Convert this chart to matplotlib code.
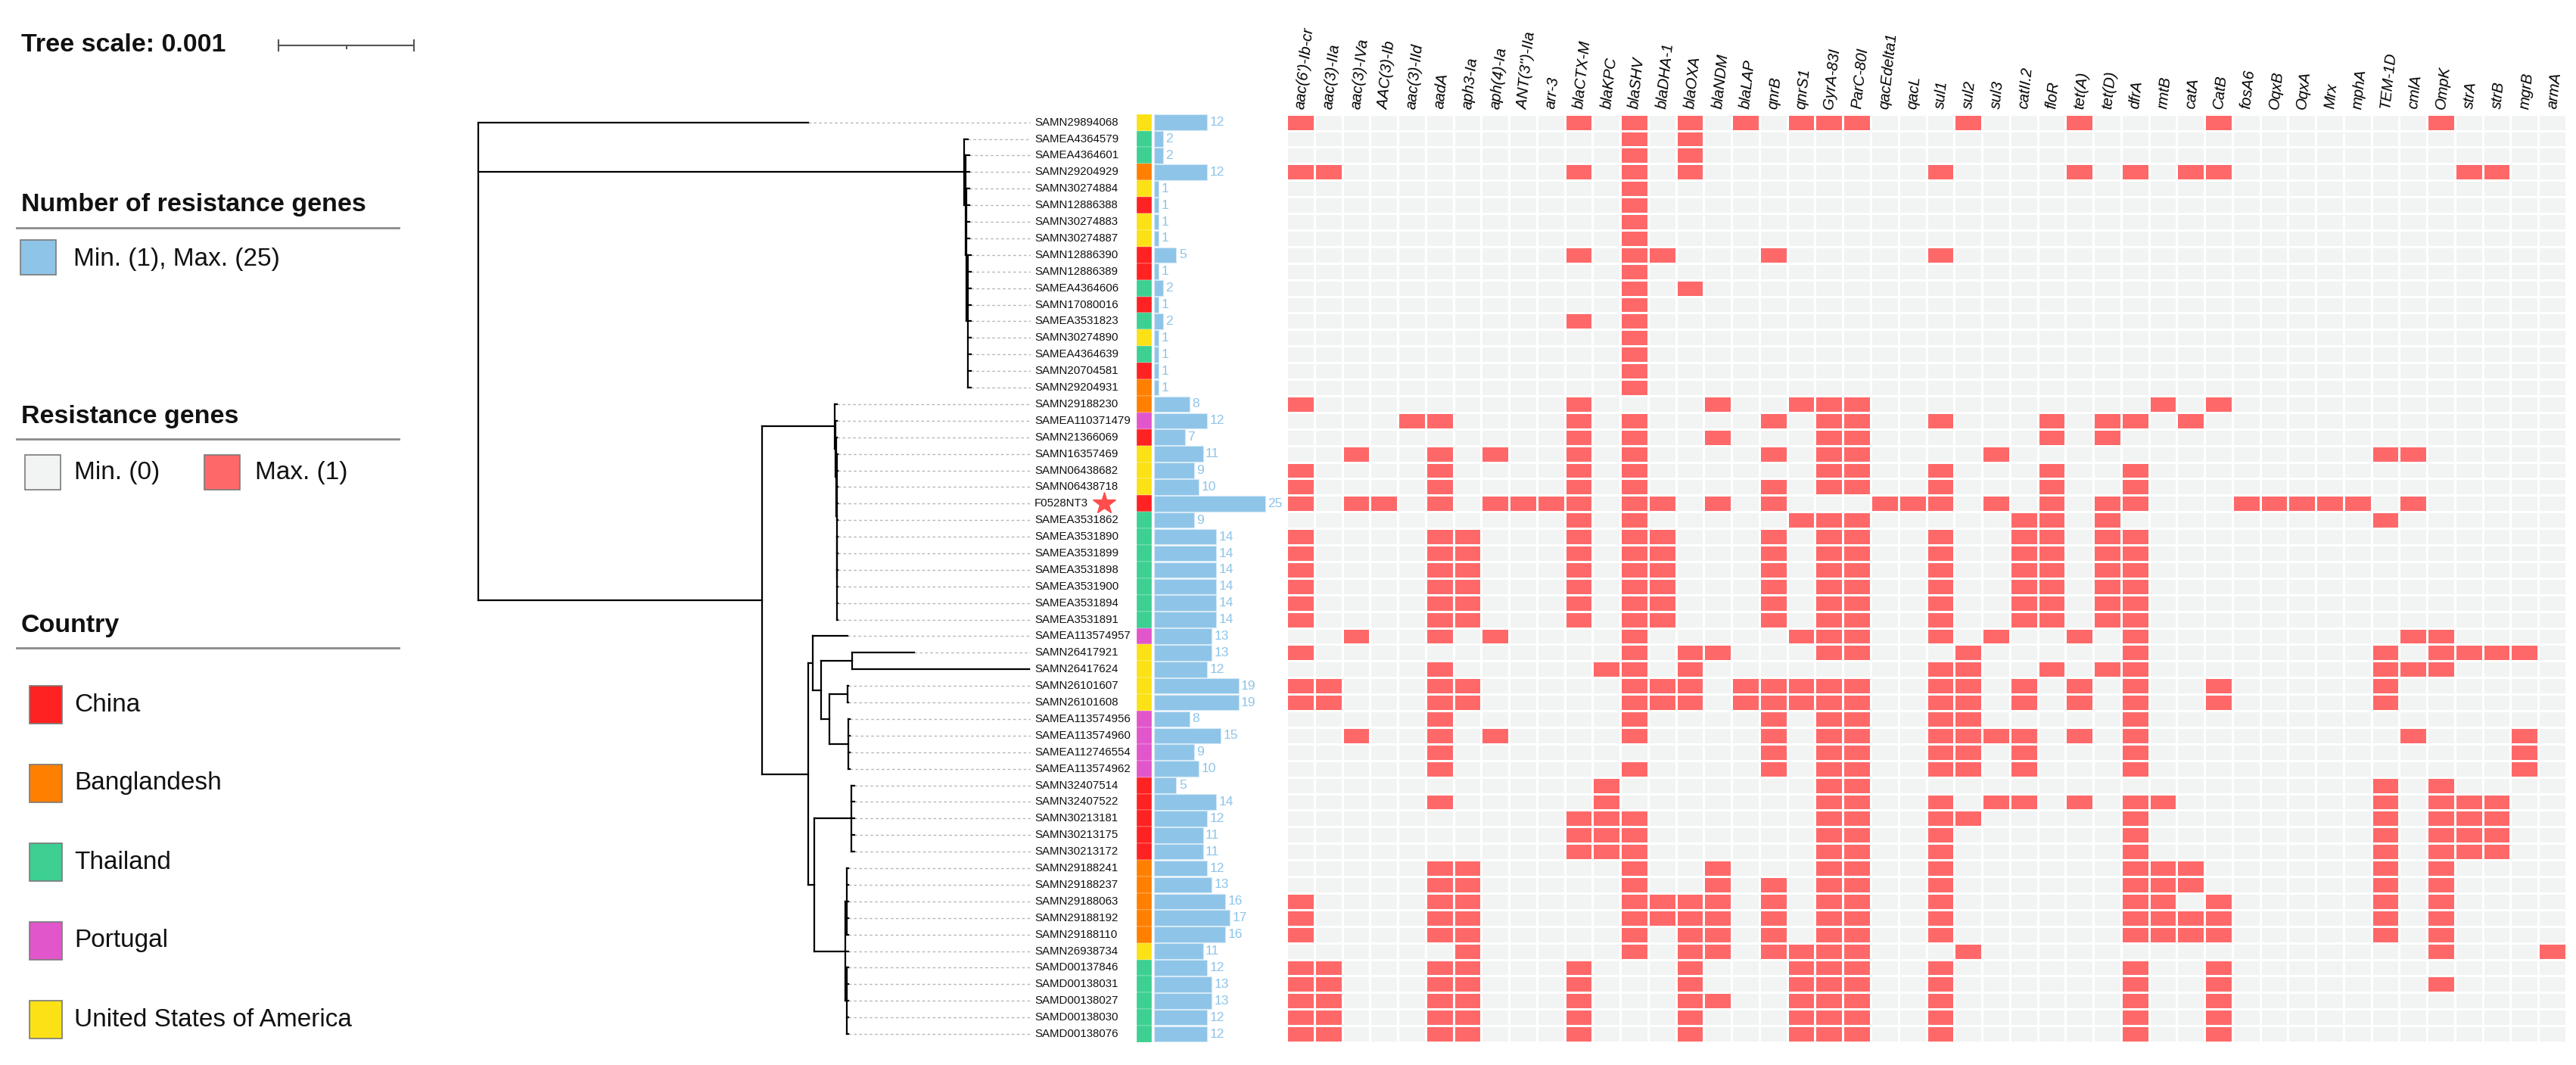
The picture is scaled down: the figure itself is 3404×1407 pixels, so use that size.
import matplotlib
matplotlib.use("Agg")
import matplotlib.pyplot as plt
import matplotlib.transforms as mtransforms
from matplotlib.colors import ListedColormap
from matplotlib.patches import Rectangle
import numpy as np

plt.rcParams["font.family"] = ["Liberation Sans", "DejaVu Sans"]

# ---------------------------------------------------------------------------
# Data
# ---------------------------------------------------------------------------

SAMPLES = [
    "SAMN29894068", "SAMEA4364579", "SAMEA4364601", "SAMN29204929",
    "SAMN30274884", "SAMN12886388", "SAMN30274883", "SAMN30274887",
    "SAMN12886390", "SAMN12886389", "SAMEA4364606", "SAMN17080016",
    "SAMEA3531823", "SAMN30274890", "SAMEA4364639", "SAMN20704581",
    "SAMN29204931", "SAMN29188230", "SAMEA110371479", "SAMN21366069",
    "SAMN16357469", "SAMN06438682", "SAMN06438718", "F0528NT3",
    "SAMEA3531862", "SAMEA3531890", "SAMEA3531899", "SAMEA3531898",
    "SAMEA3531900", "SAMEA3531894", "SAMEA3531891", "SAMEA113574957",
    "SAMN26417921", "SAMN26417624", "SAMN26101607", "SAMN26101608",
    "SAMEA113574956", "SAMEA113574960", "SAMEA112746554", "SAMEA113574962",
    "SAMN32407514", "SAMN32407522", "SAMN30213181", "SAMN30213175",
    "SAMN30213172", "SAMN29188241", "SAMN29188237", "SAMN29188063",
    "SAMN29188192", "SAMN29188110", "SAMN26938734", "SAMD00137846",
    "SAMD00138031", "SAMD00138027", "SAMD00138030", "SAMD00138076",
]

COUNTRY = [
    "US", "TH", "TH", "BD", "US", "CN", "US", "US", "CN", "CN", "TH", "CN",
    "TH", "US", "TH", "CN", "BD", "BD", "PT", "CN", "US", "US", "US", "CN",
    "TH", "TH", "TH", "TH", "TH", "TH", "TH", "PT", "US", "US", "US", "US",
    "PT", "PT", "PT", "PT", "CN", "CN", "CN", "CN", "CN", "BD", "BD", "BD",
    "BD", "BD", "US", "TH", "TH", "TH", "TH", "TH",
]

N_GENES = [
    12, 2, 2, 12, 1, 1, 1, 1, 5, 1, 2, 1, 2, 1, 1, 1, 1, 8, 12, 7, 11, 9, 10,
    25, 9, 14, 14, 14, 14, 14, 14, 13, 13, 12, 19, 19, 8, 15, 9, 10, 5, 14,
    12, 11, 11, 12, 13, 16, 17, 16, 11, 12, 13, 13, 12, 12,
]

GENES = [
    "aac(6')-Ib-cr", "aac(3)-IIa", "aac(3)-IVa", "AAC(3)-Ib", "aac(3)-IId",
    "aadA", "aph3-Ia", "aph(4)-Ia", "ANT(3'')-IIa", "arr-3", "blaCTX-M",
    "blaKPC", "blaSHV", "blaDHA-1", "blaOXA", "blaNDM", "blaLAP", "qnrB",
    "qnrS1", "GyrA-83I", "ParC-80I", "qacEdelta1", "qacL", "sul1", "sul2",
    "sul3", "catII.2", "floR", "tet(A)", "tet(D)", "dfrA", "rmtB", "catA",
    "CatB", "fosA6", "OqxB", "OqxA", "Mrx", "mphA", "TEM-1D", "cmlA", "OmpK",
    "strA", "strB", "mgrB", "armA",
]

# genes present in each sample (1-based column numbers into GENES)
THAI_14 = [1, 6, 7, 11, 13, 14, 18, 20, 21, 24, 27, 28, 30, 31]
USA_19 = [1, 2, 6, 7, 13, 14, 15, 17, 18, 19, 20, 21, 24, 25, 27, 29, 31, 34, 40]
CN_11 = [11, 12, 13, 20, 21, 24, 31, 40, 42, 43, 44]
TH_12 = [1, 2, 6, 7, 11, 15, 19, 20, 21, 24, 31, 34]
PRESENT = [
    [1, 11, 13, 15, 17, 19, 20, 21, 25, 29, 34, 42],
    [13, 15],
    [13, 15],
    [1, 2, 11, 13, 15, 24, 29, 31, 33, 34, 43, 44],
    [13], [13], [13], [13],
    [11, 13, 14, 18, 24],
    [13],
    [13, 15],
    [13],
    [11, 13],
    [13], [13], [13], [13],
    [1, 11, 16, 19, 20, 21, 32, 34],
    [5, 6, 11, 13, 18, 20, 21, 24, 28, 30, 31, 33],
    [11, 13, 16, 20, 21, 28, 30],
    [3, 6, 8, 11, 13, 18, 20, 21, 26, 40, 41],
    [1, 6, 11, 13, 20, 21, 24, 28, 31],
    [1, 6, 11, 13, 18, 20, 21, 24, 28, 31],
    [1, 3, 4, 6, 8, 9, 10, 11, 13, 14, 16, 18, 22, 23, 24, 26, 28, 30, 31,
     35, 36, 37, 38, 39, 41],
    [11, 13, 19, 20, 21, 27, 28, 30, 40],
    THAI_14, THAI_14, THAI_14, THAI_14, THAI_14, THAI_14,
    [3, 6, 8, 13, 19, 20, 21, 24, 26, 29, 31, 41, 42],
    [1, 13, 15, 16, 20, 21, 25, 31, 40, 42, 43, 44, 45],
    [6, 12, 13, 15, 24, 25, 28, 30, 31, 40, 41, 42],
    USA_19, USA_19,
    [6, 13, 18, 20, 21, 24, 25, 31],
    [3, 6, 8, 13, 18, 20, 21, 24, 25, 26, 27, 29, 31, 41, 45],
    [6, 18, 20, 21, 24, 25, 27, 31, 45],
    [6, 13, 18, 20, 21, 24, 25, 27, 31, 45],
    [12, 20, 21, 40, 42],
    [6, 12, 20, 21, 24, 26, 27, 29, 31, 32, 40, 42, 43, 44],
    [11, 12, 13, 20, 21, 24, 25, 31, 40, 42, 43, 44],
    CN_11, CN_11,
    [6, 7, 13, 16, 20, 21, 24, 31, 32, 33, 40, 42],
    [6, 7, 13, 16, 18, 20, 21, 24, 31, 32, 33, 40, 42],
    [1, 6, 7, 13, 14, 15, 16, 18, 20, 21, 24, 31, 32, 34, 40, 42],
    [1, 6, 7, 13, 14, 15, 16, 18, 20, 21, 24, 31, 32, 33, 34, 40, 42],
    [1, 6, 7, 13, 15, 16, 18, 20, 21, 24, 31, 32, 33, 34, 40, 42],
    [7, 13, 15, 16, 18, 19, 20, 21, 25, 42, 46],
    TH_12,
    [1, 2, 6, 7, 11, 15, 19, 20, 21, 24, 31, 34, 42],
    [1, 2, 6, 7, 11, 15, 16, 19, 20, 21, 24, 31, 34],
    TH_12, TH_12,
]


# phylogeny: leaves are 1-based row numbers, branch lengths in subst./site
def L(row, length):
    return {"name": row, "len": length, "children": []}


def N(length, *children):
    return {"name": None, "len": length, "children": list(children)}


TREE = N(0.0,
    L(1, 0.002436),
    N(0.003585,
        L(2, 0.00003),
        N(0.00001, L(3, 0.00003), L(4, 0.00003),
            N(0.00001, L(5, 0.00002), L(6, 0.00002), L(7, 0.00002),
              L(8, 0.00002),
              N(0.00001, L(9, 0.00002), L(10, 0.00002), L(11, 0.00002),
                L(12, 0.00002), L(13, 0.00002), L(14, 0.00002),
                L(15, 0.00002), L(16, 0.00002), L(17, 0.00002))))),
    N(0.002095,
        N(0.000536,
            L(18, 0.000017),
            N(0.000005, L(19, 0.000012),
                N(0.000005, L(20, 0.000008),
                    N(0.000005, L(21, 0.000005), L(22, 0.000005),
                      L(23, 0.000005), L(24, 0.000005), L(25, 0.000005),
                      N(0.000003, L(26, 0.000003), L(27, 0.000003),
                        L(28, 0.000003), L(29, 0.000003), L(30, 0.000003),
                        L(31, 0.000003)))))),
        N(0.000341,
            N(0.000034,
                L(32, 0.000257),
                N(0.000061,
                    N(0.000229, L(33, 0.000458), L(34, 0.001307)),
                    N(0.000061,
                        N(0.000134, L(35, 0.000006), L(36, 0.000006)),
                        N(0.00014, L(37, 0.00001), L(38, 0.00001),
                          L(39, 0.00001), L(40, 0.00001))))),
            N(0.000045,
                N(0.000274, L(41, 0.00002), L(42, 0.00002), L(43, 0.00002),
                  L(44, 0.00002), L(45, 0.00002)),
                N(0.000229,
                    N(0.00001, L(46, 0.00001), L(47, 0.00001),
                      L(48, 0.00001), L(49, 0.00001), L(50, 0.00001)),
                    L(51, 0.00002),
                    N(0.00001, L(52, 0.00001), L(53, 0.00001),
                      L(54, 0.00001), L(55, 0.00001), L(56, 0.00001)))))),
)

HIGHLIGHT = "F0528NT3"
TREE_SCALE = 0.001

COUNTRY_NAMES = {
    "CN": "China", "BD": "Banglandesh", "TH": "Thailand", "PT": "Portugal",
    "US": "United States of America",
}
COUNTRY_COLORS = {
    "CN": "#ff2222", "BD": "#ff8000", "TH": "#3dd092", "PT": "#e256cb",
    "US": "#fbe115",
}
LEGEND_ORDER = ["CN", "BD", "TH", "PT", "US"]

# ---------------------------------------------------------------------------
# Styling / layout (pixels of the 3404 x 1407 canvas)
# ---------------------------------------------------------------------------

W, H, DPI = 3404, 1407, 100
ROW_TOP, ROW_BOTTOM = 150.7, 1377.0
BAR_BLUE = "#8ec4e8"
HEAT_RED = "#ff6868"
HEAT_GRAY = "#f1f4f3"
PX_PER_UNIT = 179 / TREE_SCALE  # the tree scale bar is 179 px long
ROOT_PX = 632
TREE_LEFT, TREE_RIGHT = 600, 1362


def frac_box(x0, x1, y0=ROW_TOP, y1=ROW_BOTTOM):
    return [x0 / W, 1 - y1 / H, (x1 - x0) / W, (y1 - y0) / H]


def layout(n, x0, leaves):
    n["x"] = x0 + n["len"]
    if n["children"]:
        for c in n["children"]:
            layout(c, n["x"], leaves)
        n["y"] = (n["children"][0]["y"] + n["children"][-1]["y"]) / 2
    else:
        n["y"] = n["name"] - 1
        leaves.append(n)


def draw_tree(ax, n):
    kw = dict(color="black", lw=1.6, solid_capstyle="projecting")
    if n["children"]:
        ax.plot([n["x"], n["x"]],
                [n["children"][0]["y"], n["children"][-1]["y"]], **kw)
        for c in n["children"]:
            ax.plot([n["x"], c["x"]], [c["y"], c["y"]], **kw)
            draw_tree(ax, c)


fig = plt.figure(figsize=(W / DPI, H / DPI), dpi=DPI)
n_rows = len(SAMPLES)
rows = np.arange(n_rows)
ylim = (n_rows - 0.5, -0.5)

# --- tree ------------------------------------------------------------------
ax_tree = fig.add_axes(frac_box(TREE_LEFT, TREE_RIGHT))
leaves = []
layout(TREE, 0.0, leaves)
draw_tree(ax_tree, TREE)
x_right = (TREE_RIGHT - ROOT_PX) / PX_PER_UNIT
ax_tree.set_xlim(-(ROOT_PX - TREE_LEFT) / PX_PER_UNIT, x_right)
ax_tree.set_ylim(*ylim)
ax_tree.axis("off")

label_trans = mtransforms.offset_copy(
    mtransforms.blended_transform_factory(ax_tree.transAxes, ax_tree.transData),
    fig=fig, x=3.5, y=0, units="points")
for leaf in leaves:
    ax_tree.plot([leaf["x"], x_right], [leaf["y"]] * 2, color="#b5b5b5",
                 lw=1.0, ls=(0, (2.5, 2.5)), zorder=0)
    name = SAMPLES[leaf["y"]]
    ax_tree.text(1, leaf["y"], name, transform=label_trans, fontsize=10.8,
                 va="center", ha="left", color="#111111")
    if name == HIGHLIGHT:
        star_trans = mtransforms.offset_copy(label_trans, fig=fig, x=66,
                                             units="points")
        ax_tree.plot([1], [leaf["y"]], marker="*", ms=22, color="#ff4d4d",
                     mec="#ff4d4d", transform=star_trans, clip_on=False)

# --- country strip ---------------------------------------------------------
ax_strip = fig.add_axes(frac_box(1502, 1522))
ax_strip.barh(rows, [1] * n_rows, height=1.0,
              color=[COUNTRY_COLORS[c] for c in COUNTRY],
              edgecolor="white", linewidth=0.2)
ax_strip.set_xlim(0, 1)
ax_strip.set_ylim(*ylim)
ax_strip.axis("off")

# --- gene count bars -------------------------------------------------------
ax_bar = fig.add_axes(frac_box(1525, 1700))
ax_bar.barh(rows, N_GENES, height=0.94, color=BAR_BLUE,
            edgecolor="#d4e9f7", linewidth=0.8)
for r, n in zip(rows, N_GENES):
    ax_bar.annotate(str(n), (n, r), xytext=(2.5, 0), textcoords="offset points",
                    va="center", ha="left", fontsize=12.5, color=BAR_BLUE)
ax_bar.set_xlim(0, 175 / 5.87)
ax_bar.set_ylim(*ylim)
ax_bar.axis("off")

# --- heatmap ---------------------------------------------------------------
matrix = np.zeros((n_rows, len(GENES)))
for r, cols in enumerate(PRESENT):
    for c in cols:
        matrix[r, c - 1] = 1
ax_heat = fig.add_axes(frac_box(1700, 3391))
ax_heat.pcolormesh(np.arange(len(GENES) + 1) - 0.5,
                   np.arange(n_rows + 1) - 0.5, matrix,
                   cmap=ListedColormap([HEAT_GRAY, HEAT_RED]),
                   vmin=0, vmax=1, edgecolors="white", linewidth=0.9)
ax_heat.set_xlim(-0.5, len(GENES) - 0.5)
ax_heat.set_ylim(*ylim)
ax_heat.xaxis.tick_top()
ax_heat.set_xticks(np.arange(len(GENES)))
ax_heat.set_xticklabels(GENES, rotation=84, ha="left", va="center",
                        rotation_mode="anchor", fontsize=14.5,
                        fontstyle="italic")
ax_heat.tick_params(axis="x", length=0, pad=5)
ax_heat.set_yticks([])
for s in ax_heat.spines.values():
    s.set_visible(False)

# --- legends (pixel coordinates) ------------------------------------------
ax_leg = fig.add_axes([0, 0, 600 / W, 1])
ax_leg.set_xlim(0, 600)
ax_leg.set_ylim(H, 0)
ax_leg.axis("off")

HEAD = dict(fontsize=24.5, fontweight="bold", va="center", ha="left",
            color="#111111")
ITEM = dict(fontsize=24, va="center", ha="left", color="#111111")

ax_leg.text(28, 60, f"Tree scale: {TREE_SCALE:g}", **HEAD)
bar_len = TREE_SCALE * PX_PER_UNIT
ax_leg.plot([368, 368 + bar_len], [60, 60], color="#555555", lw=1.5)
for xt in (368, 368 + bar_len):
    ax_leg.plot([xt, xt], [53, 67], color="#555555", lw=1.5)
ax_leg.plot([368 + bar_len / 2] * 2, [60, 64], color="#555555", lw=1.5)


def heading(y, text):
    ax_leg.text(28, y, text, **HEAD)
    ax_leg.plot([22, 527], [y + 30, y + 30], color="#8a8a8a", lw=2)


def swatch(x, y, w, h, color):
    ax_leg.add_patch(Rectangle((x, y - h / 2), w, h, facecolor=color,
                               edgecolor="#7a7a7a", lw=1.2))


heading(271, "Number of resistance genes")
swatch(27, 340, 47, 46, BAR_BLUE)
ax_leg.text(97, 342, f"Min. ({min(N_GENES)}), Max. ({max(N_GENES)})", **ITEM)

heading(550, "Resistance genes")
swatch(33, 624, 47, 46, HEAT_GRAY)
ax_leg.text(98, 624, "Min. (0)", **ITEM)
swatch(270, 624, 47, 46, HEAT_RED)
ax_leg.text(337, 624, "Max. (1)", **ITEM)

heading(826, "Country")
for i, code in enumerate(LEGEND_ORDER):
    y = 931 + i * 104
    swatch(39, y, 43, 50, COUNTRY_COLORS[code])
    ax_leg.text(98, y, COUNTRY_NAMES[code], **ITEM)

fig.savefig("out.png", dpi=DPI)
